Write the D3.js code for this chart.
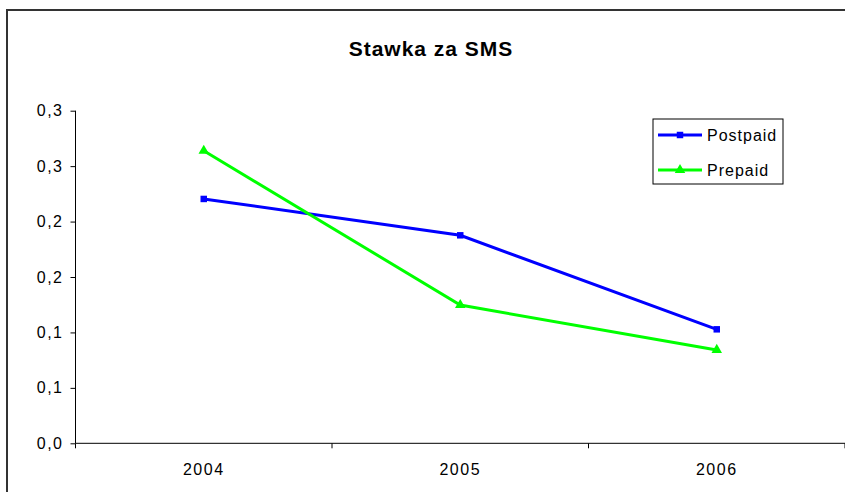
<!DOCTYPE html>
<html lang="pl">
<head>
<meta charset="UTF-8">
<title>Stawka za SMS</title>
<script src="https://cdnjs.cloudflare.com/ajax/libs/d3/7.8.5/d3.min.js"></script>
<style>
    body { margin: 0; background: #fff; }
    svg { display: block; font-family: "Liberation Sans", Arial, sans-serif; }
    .axis text { font-size: 16px; fill: #000; letter-spacing: 1.5px; }
    .axis path, .axis line { stroke: #000; }
</style>
</head>
<body>
<div id="chart"></div>
<script>
    // data
    const years = ["2004", "2005", "2006"];
    const postpaid = [0.2204, 0.1876, 0.1028];
    const prepaid = [0.2639, 0.1247, 0.0842];
    const yTicks = [0, 0.05, 0.1, 0.15, 0.2, 0.25, 0.3];
    const seriesNames = ["Postpaid", "Prepaid"];

    const width = 845, height = 492;
    const margin = {top: 110.7, right: 0, bottom: 48.7, left: 75.5};

    const svg = d3.select("#chart").append("svg")
        .attr("width", width)
        .attr("height", height);

    // outer chart frame
    svg.append("rect")
        .attr("x", 7).attr("y", 10)
        .attr("width", width + 10).attr("height", height + 10)
        .attr("fill", "none")
        .attr("stroke", "#333")
        .attr("stroke-width", 2);

    svg.append("text")
        .attr("x", 431).attr("y", 56)
        .attr("text-anchor", "middle")
        .style("font-size", "21px")
        .style("font-weight", "bold")
        .style("letter-spacing", "1px")
        .text("Stawka za SMS");

    const x = d3.scaleBand()
        .domain(years)
        .range([margin.left, width - margin.right]);

    const y = d3.scaleLinear()
        .domain([0, 0.3])
        .range([height - margin.bottom, margin.top]);

    // Excel shows 0.05 steps with one decimal (0,05 -> 0,1 ...)
    const fmt = v => d3.format(".1f")(Math.round(v * 10 * 1.0000001) / 10).replace(".", ",");

    svg.append("g")
        .attr("class", "axis")
        .attr("transform", `translate(${margin.left},0)`)
        .call(d3.axisLeft(y).tickValues(yTicks).tickSize(5).tickSizeOuter(0).tickPadding(7)
            .tickFormat(fmt))
        .call(g => g.select(".domain").attr("d", `M0,${y(0.3)}V${y(0)}`));

    // x axis with ticks on band boundaries
    const xAxis = svg.append("g")
        .attr("class", "axis")
        .attr("transform", `translate(0,${y(0)})`);
    xAxis.append("line")
        .attr("x1", margin.left).attr("x2", width)
        .attr("stroke", "#000");
    const bounds = years.map(d => x(d)).concat([x(years[years.length - 1]) + x.bandwidth()]);
    xAxis.selectAll(".xt").data(bounds).join("line")
        .attr("x1", d => d).attr("x2", d => d)
        .attr("y1", 0).attr("y2", 5)
        .attr("stroke", "#000");
    xAxis.selectAll(".xl").data(years).join("text")
        .attr("x", d => x(d) + x.bandwidth() / 2)
        .attr("y", 32)
        .attr("text-anchor", "middle")
        .text(d => d);

    const series = [
        {name: seriesNames[0], values: postpaid, color: "#0000ff", marker: d3.symbolSquare, size: 42},
        {name: seriesNames[1], values: prepaid, color: "#00ff00", marker: d3.symbolTriangle, size: 48}
    ];

    const line = d3.line()
        .x((d, i) => x(years[i]) + x.bandwidth() / 2)
        .y(d => y(d));

    series.forEach(s => {
        svg.append("path")
            .datum(s.values)
            .attr("fill", "none")
            .attr("stroke", s.color)
            .attr("stroke-width", 3)
            .attr("d", line);
        svg.selectAll(null).data(s.values).join("path")
            .attr("d", d3.symbol(s.marker, s.size))
            .attr("transform", (d, i) => `translate(${x(years[i]) + x.bandwidth() / 2},${y(d)})`)
            .attr("fill", s.color);
    });

    // legend
    const legend = svg.append("g").attr("transform", "translate(653,119)");
    legend.append("rect")
        .attr("width", 130).attr("height", 65)
        .attr("fill", "#fff").attr("stroke", "#000");
    series.forEach((s, i) => {
        const g = legend.append("g").attr("transform", `translate(0,${16 + i * 35})`);
        g.append("line")
            .attr("x1", 5).attr("x2", 49)
            .attr("stroke", s.color).attr("stroke-width", 3);
        g.append("path")
            .attr("d", d3.symbol(s.marker, s.size))
            .attr("transform", "translate(27,0)")
            .attr("fill", s.color);
        g.append("text")
            .attr("x", 54).attr("y", 6)
            .style("font-size", "16px")
            .style("letter-spacing", "1px")
            .text(s.name);
    });
</script>
</body>
</html>
